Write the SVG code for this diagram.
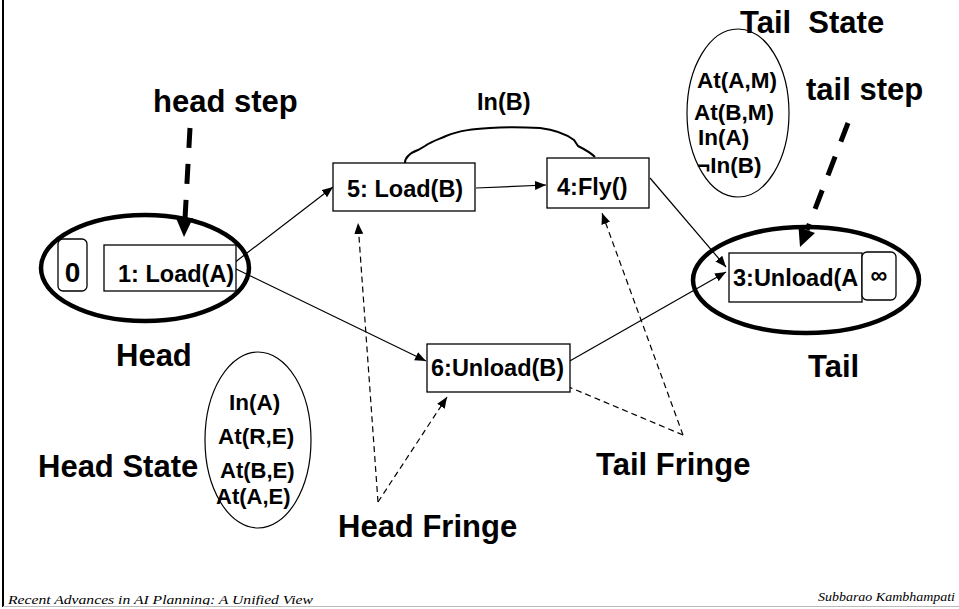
<svg xmlns="http://www.w3.org/2000/svg" width="959" height="609" viewBox="0 0 959 609">
<style>
.lbl{font-family:"Liberation Sans",Arial,sans-serif;font-weight:bold;font-size:31px;fill:#000}
.nt{font-family:"Liberation Sans",Arial,sans-serif;font-weight:bold;font-size:23.5px;fill:#000}
.st{font-family:"Liberation Sans",Arial,sans-serif;font-weight:bold;font-size:22.5px;fill:#000}
.box{fill:#fff;stroke:#000;stroke-width:1.3}
.ring{fill:none;stroke:#000;stroke-width:4.5}
.sell{fill:none;stroke:#000;stroke-width:1.2}
.edge{fill:none;stroke:#000;stroke-width:1.2;marker-end:url(#ah)}
.fr{stroke-dasharray:6 4}
.step{fill:none;stroke:#000;stroke-width:5;stroke-dasharray:20 16}
.foot{font-family:"Liberation Serif","Times New Roman",serif;font-style:italic;font-size:13px;fill:#000}
</style>
<defs>
<marker id="ah" markerUnits="userSpaceOnUse" markerWidth="12" markerHeight="10" refX="11" refY="4.5" orient="auto"><path d="M0,0 L11,4.5 L0,9 z" fill="#000"/></marker>
<clipPath id="fc"><rect x="0" y="0" width="959" height="605"/></clipPath>
</defs>
<rect x="0" y="0" width="959" height="609" fill="#fff"/>
<line x1="3" y1="0" x2="3" y2="607" stroke="#000" stroke-width="2"/>
<line x1="3" y1="606.5" x2="959" y2="606.5" stroke="#bbb" stroke-width="1"/>

<g id="connectors">
<line class="edge" x1="234" y1="263" x2="333" y2="187"/>
<line class="edge" x1="234" y1="268" x2="426" y2="361"/>
<line class="edge" x1="476" y1="188" x2="546" y2="185"/>
<line class="edge" x1="650" y1="178" x2="726" y2="267"/>
<line class="edge" x1="568" y1="362" x2="726" y2="272"/>
<path d="M405,165 C404,158 410,153 418,150 L425,146 C432,141 440,139 446,136 C460,130 475,129 490,128 C505,127 520,127 540,128 C556,130 566,134 574,140 L578,146 C584,149 590,152 595,157" fill="none" stroke="#000" stroke-width="2"/>
<line class="edge fr" x1="378" y1="502" x2="358" y2="223"/>
<line class="edge fr" x1="378" y1="502" x2="447" y2="397"/>
<line class="edge fr" x1="683" y1="435" x2="557" y2="382"/>
<line class="edge fr" x1="683" y1="435" x2="602" y2="213"/>
</g>

<g id="node-head">
<ellipse class="ring" cx="145" cy="268" rx="104" ry="53"/>
<rect class="box" x="58" y="239" width="29" height="52" rx="5"/>
<text class="nt" x="72.5" y="282" text-anchor="middle" style="font-size:28px">0</text>
<rect class="box" x="104" y="245" width="132" height="46"/>
<text class="nt" x="118" y="282">1: Load(A)</text>
</g>

<g id="node-5">
<rect class="box" x="333" y="163" width="142" height="48"/>
<text class="nt" x="347" y="197">5: Load(B)</text>
</g>

<g id="node-4">
<rect class="box" x="547" y="158" width="102" height="50"/>
<text class="nt" x="557" y="195">4:Fly()</text>
</g>

<g id="node-6">
<rect class="box" x="427" y="344" width="143" height="48"/>
<text class="nt" x="431" y="376">6:Unload(B)</text>
</g>

<g id="node-tail">
<ellipse class="ring" cx="806" cy="280" rx="113" ry="53"/>
<rect class="box" x="729" y="253" width="133" height="49"/>
<text class="nt" x="733" y="286">3:Unload(A</text>
<rect class="box" x="862" y="252" width="34" height="48" rx="5"/>
<text class="nt" x="879" y="283" text-anchor="middle">∞</text>
</g>

<g id="tail-state">
<ellipse class="sell" cx="738" cy="113" rx="51" ry="84"/>
<text class="st" x="697" y="88">At(A,M)</text>
<text class="st" x="694" y="120">At(B,M)</text>
<text class="st" x="698" y="145">In(A)</text>
<text class="st" x="697" y="173">¬In(B)</text>
</g>

<g id="head-state">
<ellipse class="sell" cx="258" cy="440" rx="53" ry="88"/>
<text class="st" x="229" y="410">In(A)</text>
<text class="st" x="218" y="444">At(R,E)</text>
<text class="st" x="220" y="478" style="font-size:22px">At(B,E)</text>
<text class="st" x="216" y="504" style="font-size:22px">At(A,E)</text>
</g>

<g id="labels">
<text class="lbl" x="153" y="112">head step</text>
<text class="lbl" x="806" y="100">tail step</text>
<text class="lbl" x="740" y="33" xml:space="preserve">Tail  State</text>
<text class="nt" x="477" y="110">In(B)</text>
<text class="lbl" x="116" y="366">Head</text>
<text class="lbl" x="808" y="377">Tail</text>
<text class="lbl" x="38" y="477">Head State</text>
<text class="lbl" x="338" y="537">Head Fringe</text>
<text class="lbl" x="596" y="475">Tail Fringe</text>
</g>

<g id="steps">
<line class="step" x1="190" y1="128" x2="185" y2="219"/>
<polygon points="184,237 176,218 193,218" fill="#000"/>
<line class="step" x1="848" y1="123" x2="807" y2="230"/>
<polygon points="800,247 798.5,227 815,233" fill="#000"/>
</g>

<g id="footer" clip-path="url(#fc)">
<text class="foot" x="8" y="604" textLength="305" lengthAdjust="spacingAndGlyphs">Recent Advances in AI Planning: A Unified View</text>
<text class="foot" x="955" y="601" text-anchor="end" textLength="137" lengthAdjust="spacingAndGlyphs">Subbarao Kambhampati</text>
</g>
</svg>
